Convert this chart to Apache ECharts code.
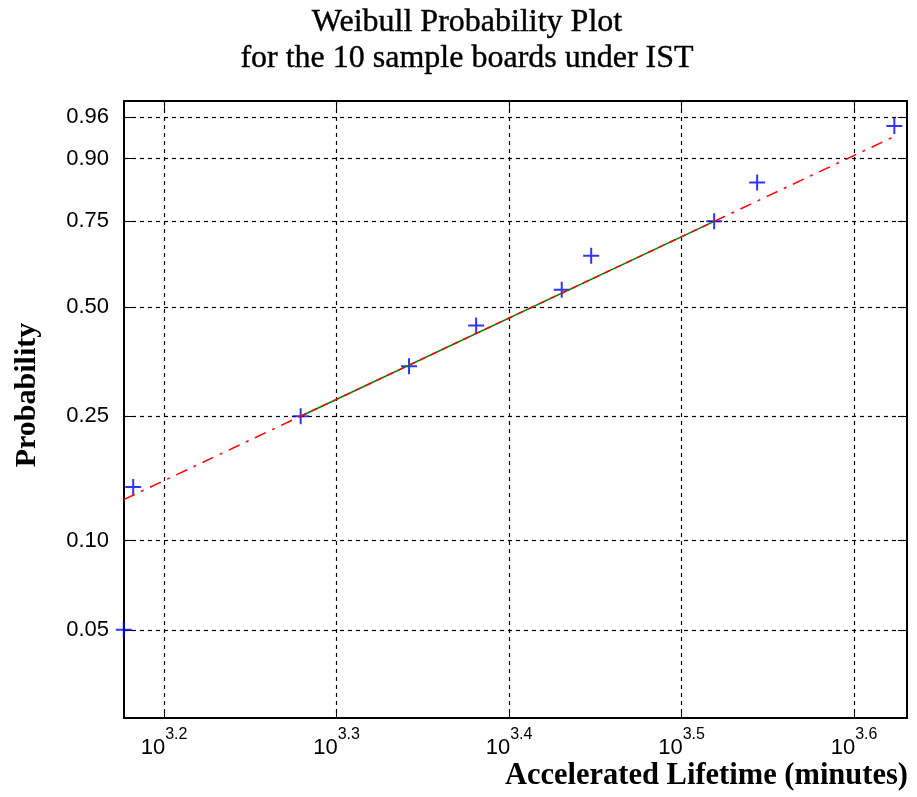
<!DOCTYPE html>
<html>
<head>
<meta charset="utf-8">
<script src="https://cdn.jsdelivr.net/npm/echarts@6/dist/echarts.min.js"></script>
<style>
  html, body { margin: 0; padding: 0; background: #ffffff; }
  #chart { width: 917px; height: 797px; }
</style>
</head>
<body>
<div id="chart"></div>
<script>
// failure times of the 10 boards (minutes)
var lifetimes = [1502, 1521, 1902, 2198, 2404, 2695, 2803, 3303, 3498, 4201]
// plotting positions of the sorted sample
var probabilities = [0.05, 0.15, 0.25, 0.35, 0.45, 0.55, 0.65, 0.75, 0.85, 0.95]
// tick labels
var probTicks = [0.05, 0.10, 0.25, 0.50, 0.75, 0.90, 0.96]
var expTicks = [3.2, 3.3, 3.4, 3.5, 3.6]
// axis limits: log10(minutes) and probability
var xLimits = [3.1768, 3.6307]
var probLimits = [0.02487, 0.97433]

// weibull scale: ln(-ln(1-p))
function wz (p) {
  return Math.log(-Math.log(1 - p))
}

var points = lifetimes.map(function (t, i) {
  return [Math.log10(t), wz(probabilities[i])]
})

// reference line through the 1st and 3rd quartile
var q1 = points[probabilities.indexOf(0.25)]
var q3 = points[probabilities.indexOf(0.75)]
var slope = (q3[1] - q1[1]) / (q3[0] - q1[0])
function lineAt (x) {
  return [x, q1[1] + slope * (x - q1[0])]
}
var lineStart = lineAt(points[0][0])
var lineEnd = lineAt(points[points.length - 1][0])

var tickFont = 'Liberation Sans'

var myChart = echarts.init(document.getElementById('chart'))
var option = {
  animation: false,
  backgroundColor: '#ffffff',
  grid: {
    left: 124,
    right: 10,
    top: 101,
    bottom: 79,
    containLabel: false
  },
  graphic: [
    {
      type: 'text',
      x: 467,
      y: 23,
      style: { text: 'Weibull Probability Plot', textAlign: 'center', textVerticalAlign: 'middle', font: '32px "Liberation Serif"', fill: '#000', stroke: '#000', lineWidth: 0.4 }
    },
    {
      type: 'text',
      x: 467,
      y: 59,
      style: { text: 'for the 10 sample boards under IST', textAlign: 'center', textVerticalAlign: 'middle', font: '32px "Liberation Serif"', fill: '#000', stroke: '#000', lineWidth: 0.4 }
    },
    {
      type: 'text',
      x: 27,
      y: 395,
      rotation: Math.PI / 2,
      style: { text: 'Probability', textAlign: 'center', textVerticalAlign: 'middle', font: 'bold 30px "Liberation Serif"', fill: '#000' }
    },
    {
      type: 'text',
      x: 908,
      y: 776,
      style: { text: 'Accelerated Lifetime (minutes)', textAlign: 'right', textVerticalAlign: 'middle', font: 'bold 30.5px "Liberation Serif"', fill: '#000' }
    }
  ],
  xAxis: [
    {
      type: 'value',
      position: 'bottom',
      min: xLimits[0],
      max: xLimits[1],
      axisLine: { show: true, onZero: false, lineStyle: { color: '#000', width: 2 } },
      axisTick: { show: true, inside: true, length: 9, customValues: expTicks, lineStyle: { color: '#000' } },
      axisLabel: {
        show: true,
        customValues: expTicks,
        margin: 9,
        formatter: function (v) {
          return '{b|10}{s|' + v.toFixed(1) + '}'
        },
        rich: {
          b: { fontFamily: tickFont, fontSize: 22, color: '#000', lineHeight: 32, verticalAlign: 'bottom' },
          s: { fontFamily: tickFont, fontSize: 16, color: '#000', verticalAlign: 'top' }
        }
      },
      splitLine: { show: true, lineStyle: { color: '#000', type: [4, 4], width: 1.2 } }
    },
    {
      type: 'value',
      position: 'top',
      min: xLimits[0],
      max: xLimits[1],
      axisLine: { show: true, onZero: false, lineStyle: { color: '#000', width: 2 } },
      axisTick: { show: true, inside: true, length: 9, customValues: expTicks, lineStyle: { color: '#000' } },
      axisLabel: { show: false },
      splitLine: { show: false }
    }
  ],
  yAxis: [
    {
      type: 'value',
      position: 'left',
      min: wz(probLimits[0]),
      max: wz(probLimits[1]),
      axisLine: { show: true, onZero: false, lineStyle: { color: '#000', width: 2 } },
      axisTick: { show: true, inside: true, length: 9, customValues: probTicks.map(wz), lineStyle: { color: '#000' } },
      axisLabel: {
        show: true,
        customValues: probTicks.map(wz),
        margin: 15,
        fontFamily: tickFont,
        fontSize: 22,
        color: '#000',
        formatter: function (v) {
          return (1 - Math.exp(-Math.exp(v))).toFixed(2)
        }
      },
      splitLine: { show: true, lineStyle: { color: '#000', type: [4, 4], width: 1.2 } }
    },
    {
      type: 'value',
      position: 'right',
      min: wz(probLimits[0]),
      max: wz(probLimits[1]),
      axisLine: { show: true, onZero: false, lineStyle: { color: '#000', width: 2 } },
      axisTick: { show: true, inside: true, length: 9, customValues: probTicks.map(wz), lineStyle: { color: '#000' } },
      axisLabel: { show: false },
      splitLine: { show: false }
    }
  ],
  series: [
    {
      // solid part between the quartiles
      type: 'line',
      data: [q1, q3],
      symbol: 'none',
      silent: true,
      lineStyle: { color: '#008000', width: 1.5 }
    },
    {
      type: 'line',
      data: [q1, q3],
      symbol: 'none',
      silent: true,
      lineStyle: { color: '#ff0000', width: 1.5, type: [6, 6] }
    },
    {
      // extrapolated part, dash-dot
      type: 'line',
      data: [lineStart, q1],
      symbol: 'none',
      silent: true,
      lineStyle: { color: '#ff0000', width: 1.5, type: [12, 7, 3, 7] }
    },
    {
      type: 'line',
      data: [q3, lineEnd],
      symbol: 'none',
      silent: true,
      lineStyle: { color: '#ff0000', width: 1.5, type: [12, 7, 3, 7] }
    },
    {
      type: 'scatter',
      data: points,
      clip: false,
      symbol: 'path://M0,8L16,8M8,0L8,16',
      symbolSize: 16,
      itemStyle: { color: 'none', borderColor: '#0000ff', borderWidth: 2 }
    }
  ]
}
myChart.setOption(option)
</script>
</body>
</html>
